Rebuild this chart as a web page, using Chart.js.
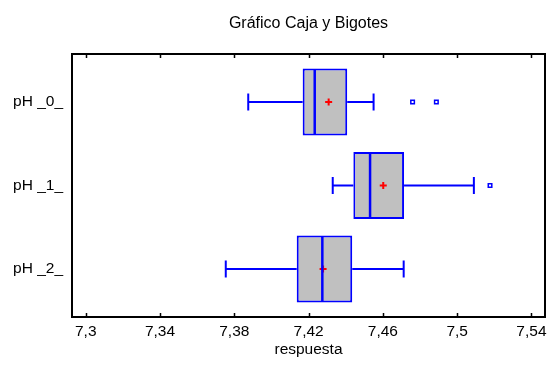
<!DOCTYPE html>
<html>
<head>
<meta charset="utf-8">
<script src="https://cdn.jsdelivr.net/npm/chart.js@4.4.1/dist/chart.umd.min.js"></script>
<style>
  html, body { margin: 0; padding: 0; background: #fff; }
  #wrap { width: 547px; height: 366px; }
</style>
</head>
<body>
<div id="wrap"><canvas id="boxChart"></canvas></div>
<script>
// Box and whisker values
const categories = ['pH _0_', 'pH _1_', 'pH _2_'];
const whiskerLow = [7.3875, 7.4330, 7.3754];
const q1Values = [7.4168, 7.4441, 7.4136];
const medianValues = [7.4233, 7.4531, 7.4274];
const q3Values = [7.4408, 7.4714, 7.4435];
const whiskerHigh = [7.4550, 7.5090, 7.4712];
const meanValues = [7.4308, 7.4602, 7.4278];
const outlierValues = [[7.4760, 7.4888], [7.5177], []];
const xTickValues = [7.3, 7.34, 7.38, 7.42, 7.46, 7.5, 7.54];

const FONT = "'Liberation Sans', Arial, sans-serif";
const BLUE = '#0000ff';

// build chart points from the arrays
const boxData = categories.map((c, i) => ({ y: i, x: [q1Values[i], q3Values[i]] }));
const whiskerData = [];
categories.forEach((c, i) => {
    whiskerData.push({ x: whiskerLow[i], y: i }, { x: q1Values[i], y: i }, { x: null, y: i });
    whiskerData.push({ x: q3Values[i], y: i }, { x: whiskerHigh[i], y: i }, { x: null, y: i });
});
const capData = [];
categories.forEach((c, i) => {
    capData.push({ x: whiskerLow[i], y: i }, { x: whiskerHigh[i], y: i });
});
const medianData = categories.map((c, i) => ({ x: medianValues[i], y: i }));
const meanData = categories.map((c, i) => ({ x: meanValues[i], y: i }));
const outlierData = [];
outlierValues.forEach((list, i) => list.forEach(v => outlierData.push({ x: v, y: i })));

// keep the plot box where the reference has it
function noPadding(scale) {
    scale.paddingLeft = 0;
    scale.paddingRight = 0;
    scale.paddingTop = 0;
    scale.paddingBottom = 0;
}

// frame round the plot with inward ticks top and bottom
const framePlugin = {
    id: 'frame',
    afterDatasetsDraw(chart) {
        const { ctx, chartArea } = chart;
        const xScale = chart.scales.x;
        ctx.save();
        ctx.strokeStyle = '#000';
        ctx.lineWidth = 2;
        ctx.strokeRect(chartArea.left, chartArea.top, chartArea.right - chartArea.left, chartArea.bottom - chartArea.top);
        ctx.lineWidth = 1.5;
        ctx.beginPath();
        xTickValues.forEach(v => {
            const px = Math.round(xScale.getPixelForValue(v)) + 0.5;
            ctx.moveTo(px, chartArea.top);
            ctx.lineTo(px, chartArea.top + 4);
            ctx.moveTo(px, chartArea.bottom);
            ctx.lineTo(px, chartArea.bottom - 4);
        });
        ctx.stroke();
        ctx.restore();
    }
};

const ctx = document.getElementById('boxChart').getContext('2d');
new Chart(ctx, {
    type: 'bar',
    data: {
        datasets: [
            {
                type: 'line',
                data: whiskerData,
                borderColor: BLUE,
                borderWidth: 2,
                pointRadius: 0,
                spanGaps: false,
                order: 6
            },
            {
                type: 'bar',
                data: boxData,
                backgroundColor: '#c0c0c0',
                borderColor: BLUE,
                borderWidth: 2,
                borderSkipped: false,
                barPercentage: 1,
                categoryPercentage: 0.8,
                order: 5
            },
            {
                type: 'scatter',
                data: capData,
                pointStyle: 'line',
                rotation: 90,
                radius: 8.5,
                borderColor: BLUE,
                borderWidth: 2,
                order: 4
            },
            {
                type: 'scatter',
                data: meanData,
                pointStyle: 'cross',
                radius: 3.5,
                borderColor: '#ff0000',
                borderWidth: 2,
                order: 3
            },
            {
                type: 'scatter',
                data: medianData,
                pointStyle: 'line',
                rotation: 90,
                radius: 33,
                borderColor: BLUE,
                borderWidth: 2.5,
                order: 2
            },
            {
                type: 'scatter',
                data: outlierData,
                pointStyle: 'rect',
                radius: 2.5,
                borderColor: BLUE,
                backgroundColor: '#ffffff',
                borderWidth: 1.5,
                order: 1
            }
        ]
    },
    options: {
        indexAxis: 'y',
        responsive: true,
        maintainAspectRatio: false,
        animation: false,
        layout: { autoPadding: false, padding: { left: 0, right: 2, top: 0, bottom: 0 } },
        plugins: {
            legend: { display: false },
            tooltip: { enabled: false }
        },
        scales: {
            x: {
                type: 'linear',
                position: 'bottom',
                min: 7.2926,
                max: 7.5473,
                offset: false,
                afterBuildTicks(scale) {
                    scale.ticks = xTickValues.map(v => ({ value: v }));
                },
                afterFit(scale) { scale.height = 49; noPadding(scale); },
                grid: { display: false, drawTicks: false },
                border: { display: false },
                ticks: {
                    color: '#000',
                    padding: 5,
                    maxRotation: 0,
                    autoSkip: false,
                    font: { family: FONT, size: 15.5 },
                    callback: v => String(v).replace('.', ',')
                },
                title: {
                    display: true,
                    text: 'respuesta',
                    color: '#000',
                    font: { family: FONT, size: 15.5 },
                    padding: { top: 0, bottom: 7 }
                }
            },
            x2: {
                type: 'linear',
                position: 'top',
                min: 7.2926,
                max: 7.5473,
                offset: false,
                afterFit(scale) { scale.height = 54; noPadding(scale); },
                grid: { display: false, drawTicks: false },
                border: { display: false },
                ticks: { display: false },
                title: {
                    display: true,
                    text: 'Gráfico Caja y Bigotes',
                    color: '#000',
                    font: { family: FONT, size: 16 },
                    padding: { top: 14, bottom: 0 }
                }
            },
            y: {
                type: 'linear',
                reverse: true,
                offset: false,
                min: -0.575,
                max: 2.575,
                afterBuildTicks(scale) {
                    scale.ticks = categories.map((c, i) => ({ value: i }));
                },
                afterFit(scale) { scale.width = 72; noPadding(scale); },
                grid: { display: false, drawTicks: false, offset: false },
                border: { display: false },
                ticks: {
                    color: '#000',
                    padding: 9,
                    font: { family: FONT, size: 15.5 },
                    callback: v => categories[v]
                }
            }
        }
    },
    plugins: [framePlugin]
});
</script>
</body>
</html>
